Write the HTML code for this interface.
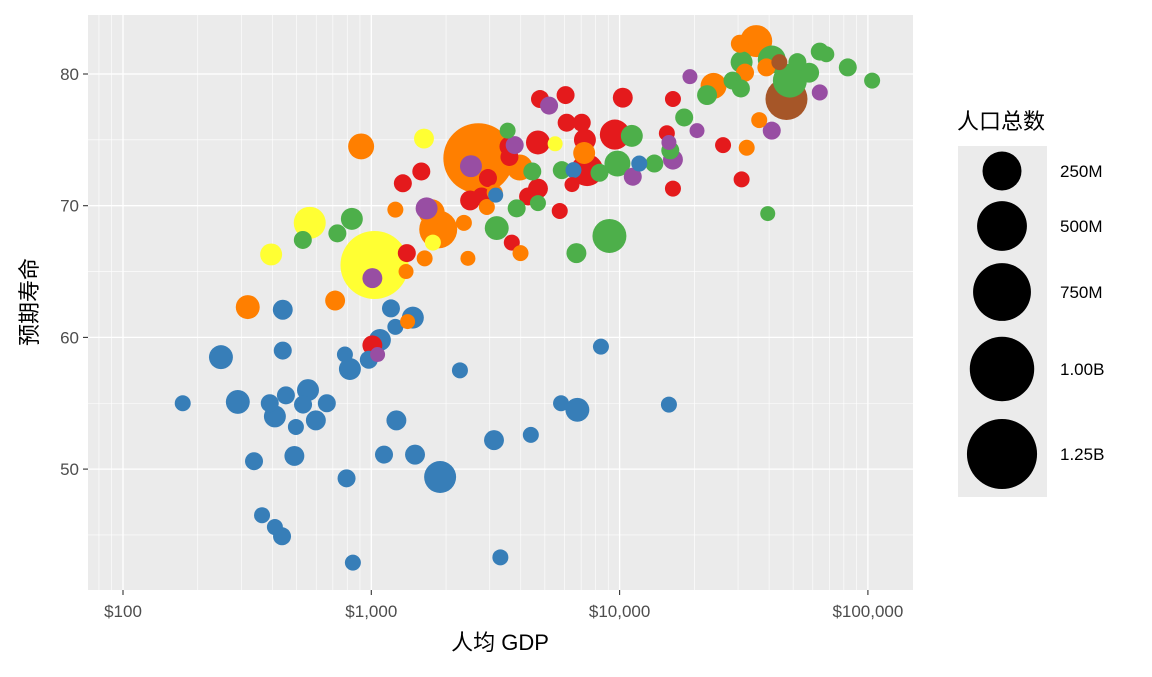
<!DOCTYPE html>
<html><head><meta charset="utf-8">
<style>
html,body{margin:0;padding:0;background:#fff;}
svg text{font-family:"Liberation Sans","Noto Sans CJK SC",sans-serif;}
</style></head>
<body>
<svg id="chart" width="1152" height="672" viewBox="0 0 1152 672" xmlns="http://www.w3.org/2000/svg">
<rect x="88" y="15" width="825" height="575" fill="#EBEBEB"/>
<g id="grid"></g>
<g id="points"></g>
<g id="axes"></g>
<text x="500" y="650" text-anchor="middle" font-size="22" fill="#000">人均 GDP</text>
<text transform="translate(37,302) rotate(-90)" text-anchor="middle" font-size="22" fill="#000">预期寿命</text>
<g>
<text x="957" y="129" font-size="22" fill="#000">人口总数</text>
<rect x="958" y="146" width="89" height="351" fill="#EBEBEB"/>
<g id="legend"></g>
</g>
</svg>
<script>
const colors = ["#E41A1C","#377EB8","#4DAF4A","#984EA3","#FF7F00","#FFFF33","#A65628"];
const gdpPercap = [
174,248,290,337,363,390,409,409,437,440,440,453,490,497,556,531,598,662,783,820,795,843,977,1083,1125,1200,1250,1262,1470,1500,1893,2275,3120,3170,3310,4390,5810,6760,6520,8410,12000,15800,
1010,1390,1340,1590,2500,2780,2950,3600,3600,3680,4280,4690,4690,4780,5740,6060,6120,7040,6430,7250,7400,9570,10300,15500,16400,16400,26100,31000,
2700,910,318,715,1860,1750,3960,7200,3140,2920,2360,2450,3990,1640,1380,1250,35500,30500,32000,23900,39000,36500,32500,1400,
1630,565,395,1030,5500,1770,
47000,44000,
64000,68000,83000,104000,52000,41000,48500,58000,31000,28500,30800,22500,18200,11200,9800,8300,13800,16000,5850,3540,4450,3200,3850,4690,6700,9100,835,730,530,39500,
19200,20500,41000,64000,16400,11300,5200,2520,3780,1670,1010,1060,15800];
const lifeExp = [
55.0,58.5,55.1,50.6,46.5,55.0,54.0,45.6,44.9,62.1,59.0,55.6,51.0,53.2,56.0,54.9,53.7,55.0,58.7,57.6,49.3,42.9,58.3,59.8,51.1,62.2,60.8,53.7,61.5,51.1,49.4,57.5,52.2,70.8,43.3,52.6,55.0,54.5,72.7,59.3,73.2,54.9,
59.4,66.4,71.7,72.6,70.4,70.7,72.1,74.5,73.7,67.2,70.7,71.3,74.8,78.1,69.6,78.4,76.3,76.3,71.6,75.0,72.7,75.4,78.2,75.5,78.1,71.3,74.6,72.0,
73.6,74.5,62.3,62.8,68.2,69.5,72.9,74.0,71.0,69.9,68.7,66.0,66.4,66.0,65.0,69.7,82.5,82.3,80.1,79.1,80.5,76.5,74.4,61.2,
75.1,68.7,66.3,65.5,74.7,67.2,
78.1,80.9,
81.7,81.5,80.5,79.5,80.9,81.1,79.5,80.1,80.9,79.5,78.9,78.4,76.7,75.3,73.2,72.5,73.2,74.2,72.7,75.7,72.6,68.3,69.8,70.2,66.4,67.7,69.0,67.9,67.4,69.4,
79.8,75.7,75.7,78.6,73.5,72.2,77.6,73.0,74.6,69.8,64.5,58.7,74.8];
const popM = [
5,51,51,13,5,13,36,5,13,23,13,13,23,5,36,13,23,13,5,36,13,5,13,36,13,13,5,23,36,23,138,5,23,2,5,5,5,51,5,5,5,5,
23,13,13,13,23,13,13,23,13,5,13,23,51,13,5,13,13,13,2,36,138,113,23,5,5,5,5,5,
1250,69,51,23,232,69,69,36,5,5,5,2,5,5,2,5,138,13,13,69,13,5,5,2,
23,138,36,1155,2,5,
310,5,
13,5,13,5,13,89,166,23,36,13,13,23,13,36,69,13,13,13,13,5,13,51,13,5,23,166,36,13,13,2,
2,2,13,5,23,13,13,36,13,36,23,2,2];
const groupIdx = [
1,1,1,1,1,1,1,1,1,1,1,1,1,1,1,1,1,1,1,1,1,1,1,1,1,1,1,1,1,1,1,1,1,1,1,1,1,1,1,1,1,1,
0,0,0,0,0,0,0,0,0,0,0,0,0,0,0,0,0,0,0,0,0,0,0,0,0,0,0,0,
4,4,4,4,4,4,4,4,4,4,4,4,4,4,4,4,4,4,4,4,4,4,4,4,
5,5,5,5,5,5,
6,6,
2,2,2,2,2,2,2,2,2,2,2,2,2,2,2,2,2,2,2,2,2,2,2,2,2,2,2,2,2,2,
3,3,3,3,3,3,3,3,3,3,3,3,3];
const xTicks = [100,1000,10000,100000];
const xTickLabels = ["$100","$1,000","$10,000","$100,000"];
const yTicks = [50,60,70,80];
const legendPops = [250,500,750,1000,1250];
const legendLabels = ["250M","500M","750M","1.00B","1.25B"];

const NS = "http://www.w3.org/2000/svg";
const X = v => 123 + (Math.log10(v) - 2) * 248.3;
const Y = v => 74 + (80 - v) * 13.17;
const R = p => Math.sqrt(49 + 4.22 * Math.pow(p, 0.79));
function mk(tag, attrs, parent){ const e=document.createElementNS(NS,tag); for(const k in attrs) e.setAttribute(k,attrs[k]); parent.appendChild(e); return e; }

const grid = document.getElementById('grid');
for (let d = 1; d <= 5; d++) for (let k = 2; k <= 9; k++) {
  const x = X(k * Math.pow(10, d));
  if (x > 88 && x < 913) {
    const l = mk('line',{x1:x,x2:x,y1:15,y2:590,stroke:'#fff','stroke-width':0.6},grid);
    
    
  }
}
[45,55,65,75].forEach(v=>{
  const l = mk('line',{x1:88,x2:913,y1:Y(v),y2:Y(v),stroke:'#fff','stroke-width':0.6},grid);
  
  
});
const axes = document.getElementById('axes');
xTicks.forEach((v,i)=>{
  const l = mk('line',{x1:X(v),x2:X(v),y1:15,y2:590,stroke:'#fff','stroke-width':1.3},grid);
  
  
  const t = mk('line',{x1:X(v),x2:X(v),y1:590,y2:595,stroke:'#333','stroke-width':1.1},axes);
  
  
  const tx = mk('text',{x:X(v),y:617,'text-anchor':'middle','font-size':17,fill:'#4D4D4D'},axes);
  tx.textContent = xTickLabels[i];
  
  
});
yTicks.forEach(v=>{
  const l = mk('line',{x1:88,x2:913,y1:Y(v),y2:Y(v),stroke:'#fff','stroke-width':1.3},grid);
  
  
  const t = mk('line',{x1:83,x2:88,y1:Y(v),y2:Y(v),stroke:'#333','stroke-width':1.1},axes);
  
  
  const tx = mk('text',{x:79,y:Y(v)+6,'text-anchor':'end','font-size':17,fill:'#4D4D4D'},axes);
  tx.textContent = v;
  
  
});

const pts = document.getElementById('points');
const order = gdpPercap.map((_,i)=>i).sort((a,b)=>popM[b]-popM[a]);
order.forEach(i=>{
  const c = mk('circle',{cx:X(gdpPercap[i]),cy:Y(lifeExp[i]),r:R(popM[i]),fill:colors[groupIdx[i]]},pts);
  
  
});

const leg = document.getElementById('legend');
const legY = [171,226,292,369,454];
legendPops.forEach((p,i)=>{
  const c = mk('circle',{cx:1002,cy:legY[i],r:R(p),fill:'#000'},leg);
  
  
  const t = mk('text',{x:1060,y:legY[i]+6,'font-size':17,fill:'#000'},leg);
  t.textContent = legendLabels[i];
  
  
});
</script>
</body></html>
